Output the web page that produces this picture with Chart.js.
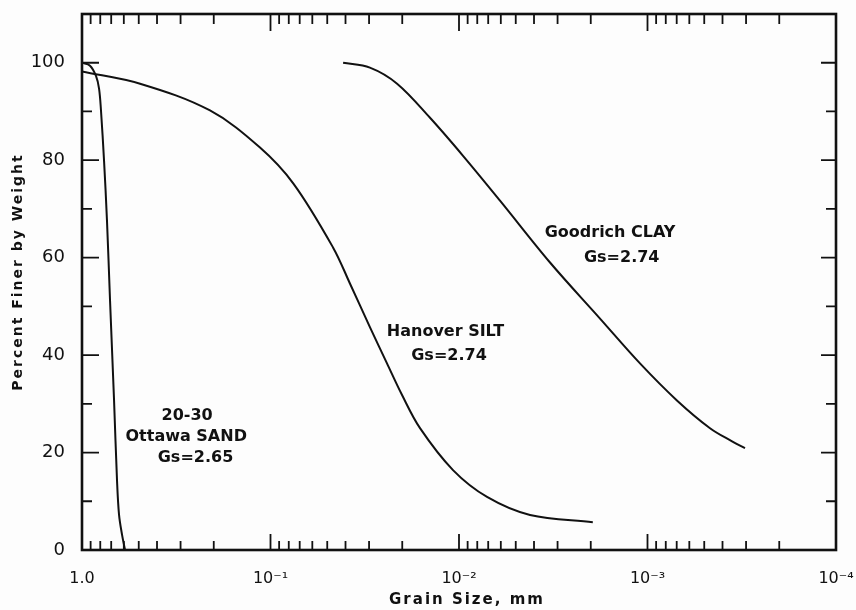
<!DOCTYPE html>
<html>
<head>
<meta charset="utf-8">
<script src="https://cdn.jsdelivr.net/npm/chart.js@4.4.1/dist/chart.umd.min.js"></script>
<style>
  html, body { margin: 0; padding: 0; background: #fdfdfd; }
  #wrap { width: 856px; height: 610px; position: relative; }
</style>
</head>
<body>
<div id="wrap"><canvas id="grain"></canvas></div>
<script>
// grain size (mm) and percent finer
const sandSize  = [1.0, 0.907, 0.843, 0.812, 0.793, 0.764, 0.737, 0.710, 0.676, 0.652, 0.636, 0.613, 0.591];
const sandFiner = [100, 99.4, 97.3, 94.7, 90.2, 79.9, 67.6, 51.2, 30.7, 14.3, 7.2, 3.1, 0];

const siltSize  = [1.0, 0.492, 0.2094, 0.1137, 0.0756, 0.0466, 0.0379, 0.02965, 0.0241, 0.02005, 0.0161, 0.01076, 0.0071, 0.0042, 0.00195];
const siltFiner = [98.2, 95.7, 90.2, 82.6, 75.2, 62.1, 54.7, 45.7, 38.3, 31.8, 25.0, 16.4, 10.9, 7.2, 5.7];

const claySize  = [0.0412, 0.0297, 0.0213, 0.01425, 0.00952, 0.00606, 0.00329, 0.001786, 0.001096, 0.000698, 0.000466, 0.000356, 0.000304];
const clayFiner = [100, 99.0, 95.7, 88.7, 80.9, 71.7, 59.0, 47.5, 38.3, 30.7, 25.0, 22.3, 20.9];

const xTickValues = [1, 0.1, 0.01, 0.001, 0.0001];
const xTickLabels = ['1.0', '10\u207B\u00B9', '10\u207B\u00B2', '10\u207B\u00B3', '10\u207B\u2074'];
const yTickValues = [0, 20, 40, 60, 80, 100];
const yMinorValues = [10, 30, 50, 70, 90];

// curve labels, placed in data coordinates
const notes = [
  { text: '20-30', x: 0.277, y: 27.5 },
  { text: 'Ottawa SAND', x: 0.28, y: 23.2 },
  { text: 'Gs=2.65', x: 0.25, y: 18.9 },
  { text: 'Hanover SILT', x: 0.0118, y: 44.7 },
  { text: 'Gs=2.74', x: 0.0113, y: 39.8 },
  { text: 'Goodrich CLAY', x: 0.00158, y: 65.0 },
  { text: 'Gs=2.74', x: 0.00137, y: 60.0 }
];

const pts = (xs, ys) => xs.map((v, i) => ({ x: v, y: ys[i] }));

const ink = '#111';
const font = 'DejaVu Sans';

const frame = {
  id: 'frame',
  afterDraw(chart) {
    const { ctx, chartArea: a, scales: { x, y } } = chart;
    ctx.save();
    ctx.strokeStyle = ink;
    ctx.lineWidth = 1.8;
    ctx.beginPath();
    // inward tick marks, x axis
    for (let e = 0; e > -4; e--) {
      for (let k = 2; k <= 9; k++) {
        const px = x.getPixelForValue(k * Math.pow(10, e - 1));
        ctx.moveTo(px, a.bottom); ctx.lineTo(px, a.bottom - 9);
        ctx.moveTo(px, a.top); ctx.lineTo(px, a.top + 10);
      }
    }
    xTickValues.slice(1, -1).forEach(v => {
      const px = x.getPixelForValue(v);
      ctx.moveTo(px, a.bottom); ctx.lineTo(px, a.bottom - 16);
      ctx.moveTo(px, a.top); ctx.lineTo(px, a.top + 17);
    });
    // y axis
    yTickValues.slice(1).forEach(v => {
      const py = y.getPixelForValue(v);
      ctx.moveTo(a.left, py); ctx.lineTo(a.left + 17, py);
      ctx.moveTo(a.right, py); ctx.lineTo(a.right - 15, py);
    });
    yMinorValues.forEach(v => {
      const py = y.getPixelForValue(v);
      ctx.moveTo(a.left, py); ctx.lineTo(a.left + 10, py);
      ctx.moveTo(a.right, py); ctx.lineTo(a.right - 10, py);
    });
    ctx.stroke();
    ctx.lineWidth = 2.6;
    ctx.strokeRect(a.left, a.top, a.width, a.height);

    // curve labels
    ctx.fillStyle = ink;
    ctx.textAlign = 'center';
    ctx.textBaseline = 'middle';
    ctx.font = 'bold 16px "' + font + '"';
    notes.forEach(n => {
      ctx.fillText(n.text, x.getPixelForValue(n.x), y.getPixelForValue(n.y));
    });

    // axis titles
    ctx.letterSpacing = '2px';
    ctx.font = 'bold 15px "' + font + '"';
    ctx.fillText('Grain Size, mm', (a.left + a.right) / 2 + 8, 600);
    ctx.font = 'bold 14px "' + font + '"';
    ctx.translate(18, 272);
    ctx.rotate(-Math.PI / 2);
    ctx.fillText('Percent Finer by Weight', 0, 0);
    ctx.restore();
  }
};

const line = (data) => ({
  data: data,
  borderColor: ink,
  borderWidth: 2,
  pointRadius: 0,
  fill: false,
  tension: 0.35
});

new Chart(document.getElementById('grain'), {
  type: 'line',
  data: {
    datasets: [
      line(pts(sandSize, sandFiner)),
      line(pts(siltSize, siltFiner)),
      line(pts(claySize, clayFiner))
    ]
  },
  options: {
    responsive: true,
    maintainAspectRatio: false,
    animation: false,
    layout: { padding: { top: 14, right: 20, left: 0, bottom: 0 } },
    plugins: { legend: { display: false }, tooltip: { enabled: false } },
    scales: {
      x: {
        type: 'logarithmic',
        min: 0.0001,
        max: 1,
        reverse: true,
        grid: { display: false },
        border: { display: false },
        afterBuildTicks: s => { s.ticks = xTickValues.map(v => ({ value: v })); },
        afterFit: s => { s.height = 60; s.paddingLeft = 0; s.paddingRight = 0; },
        ticks: {
          autoSkip: false,
          maxRotation: 0,
          padding: 11,
          color: ink,
          font: { family: font, size: 16 },
          callback: v => xTickLabels[xTickValues.findIndex(t => Math.abs(Math.log10(t) - Math.log10(v)) < 1e-6)]
        }
      },
      y: {
        min: 0,
        max: 110,
        grid: { display: false },
        border: { display: false },
        afterBuildTicks: s => { s.ticks = yTickValues.map(v => ({ value: v })); },
        afterFit: s => { s.width = 82; s.paddingTop = 0; s.paddingBottom = 0; },
        ticks: {
          padding: 9,
          color: ink,
          font: { family: font, size: 18 }
        }
      }
    }
  },
  plugins: [frame]
});
</script>
</body>
</html>
